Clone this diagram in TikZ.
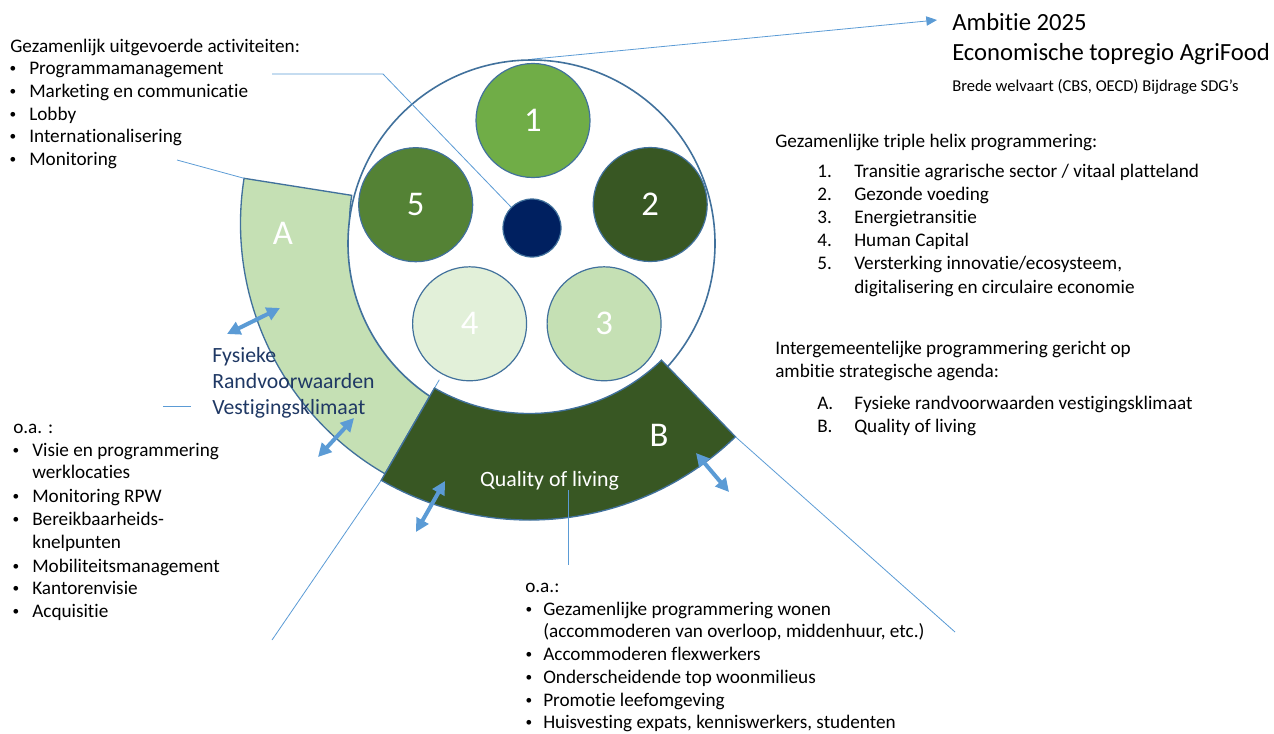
\documentclass[tikz,border=0pt]{standalone}
\usepackage{fontspec}
\setmainfont{Carlito}[Ligatures=NoCommon]
\usetikzlibrary{arrows.meta,calc}
\definecolor{cone}{RGB}{112,173,71}
\definecolor{ctwo}{RGB}{56,87,35}
\definecolor{cthree}{RGB}{197,224,180}
\definecolor{cfour}{RGB}{226,240,217}
\definecolor{cfive}{RGB}{84,130,53}
\definecolor{cdark}{RGB}{0,32,96}
\definecolor{outl}{RGB}{65,113,156}
\definecolor{lblue}{RGB}{91,155,213}
\definecolor{navy}{RGB}{31,56,100}
\newcommand\fmain{\fontsize{14.4}{17.25}\selectfont}
\begin{document}
\begin{tikzpicture}[x=0.75pt,y=0.75pt,
  txt/.style={inner sep=0pt, anchor=mid west, font=\fmain, text=black, yshift=-3pt},
  bul/.style={inner sep=0pt, anchor=center, font=\fontsize{10}{12}\selectfont, text=black, yshift=-1.5pt},
  ring/.style={circle, draw=outl, line width=0.9pt, inner sep=0pt, minimum size=85.5pt, text=white, font=\fontsize{26}{30}\selectfont},
  conn/.style={lblue, line width=0.6pt},
  dbl/.style={lblue, line width=3pt, {Triangle[length=10pt,width=10pt]}-{Triangle[length=10pt,width=10pt]}},
  band/.style={draw=outl, line width=1pt}]
\useasboundingbox (0,0) rectangle (1274,-733);
\coordinate (Cb) at (529.5,-223.5);
% band A
\draw[band, fill=cthree] ([shift={(171:180)}]Cb) arc[start angle=171,end angle=240,radius=180]
  -- ([shift={(240:289)}]Cb) arc[start angle=240,end angle=171,radius=289] -- cycle;
\coordinate (Atop) at ([shift={(171:289)}]Cb);
% big circle
\node[circle, draw=outl, line width=1.2pt, fill=white, inner sep=0pt, minimum size=275.25pt] (big) at (531.5,-243.5) {};
% B band corners
\coordinate (Bil) at ([shift={(-120:190)}]Cb);
\coordinate (Bol) at ([shift={(-120:296.5)}]Cb);
\coordinate (Bor) at ([shift={(-46:296.5)}]Cb);
\coordinate (eAB) at (272,-640);
\draw[conn] (eAB) -- (Bol) -- ($(Bol)!1.09!(Bil)$);
% band B
\draw[band, fill=ctwo] (Bil) arc[start angle=-120,end angle=-46,radius=190]
  -- (Bor) arc[start angle=-46,end angle=-120,radius=296.5] -- cycle;
% inner circles
\node[ring, fill=cone] (n1) at (533,-120.5) {1};
\node[ring, fill=ctwo] (n2) at (650.2,-204.5) {2};
\node[ring, fill=cthree] (n3) at (604.1,-323.8) {3};
\node[ring, fill=cfour] (n4) at (469.6,-323.8) {4};
\node[ring, fill=cfive] (n5) at (415.7,-204.7) {5};
\node[circle, draw=outl, line width=0.9pt, fill=cdark, inner sep=0pt, minimum size=43.5pt] (small) at (532,-228) {};
% labels in bands
\node[inner sep=0pt, text=white, font=\fontsize{26}{30}\selectfont] (labA) at (283,-233) {A};
\node[inner sep=0pt, text=white, font=\fontsize{26}{30}\selectfont] (labB) at (659,-435) {B};
\node[inner sep=0pt, anchor=mid, text=white, font=\fontsize{16.4}{20}\selectfont] (qol) at (549.6,-483) {Quality of living};
% connectors
\coordinate (tipAmb) at (937,-20);
\draw[conn, -{Triangle[length=8pt,width=7pt]}] (big.north) -- (tipAmb);
\coordinate (eGez) at (272,-74);
\coordinate (kGez) at (383,-74);
\draw[conn] (eGez) -- (kGez) -- (small.135);
\coordinate (eMon) at (177,-160);
\draw[conn] (eMon) -- (Atop);
\coordinate (eF1) at (163,-406);
\coordinate (eF2) at (191,-406);
\draw[conn] (eF1) -- (eF2);
\coordinate (eQ1) at (568,-490);
\coordinate (eQ2) at (568,-565);
\draw[conn] (eQ1) -- (eQ2);
\coordinate (eB) at (955,-632);
\draw[conn] (Bor) -- (eB);
% double arrows
\coordinate (da1) at (227,-334); \coordinate (da2) at (280,-308);
\coordinate (db1) at (318,-457); \coordinate (db2) at (354,-418);
\coordinate (dc1) at (416,-532); \coordinate (dc2) at (445,-481);
\coordinate (dd1) at (696,-453); \coordinate (dd2) at (729,-492);
\draw[dbl] (da1) -- (da2);
\draw[dbl] (db1) -- (db2);
\draw[dbl] (dc1) -- (dc2);
\draw[dbl] (dd1) -- (dd2);
% Fysieke text
\node[txt, text=navy, font=\fontsize{16.3}{19.5}\selectfont] (fy1) at (212,-355) {Fysieke};
\node[txt, text=navy, font=\fontsize{16.3}{19.5}\selectfont] (fy2) at (212,-381.5) {Randvoorwaarden};
\node[txt, text=navy, font=\fontsize{16.3}{19.5}\selectfont] (fy3) at (212,-407.5) {Vestigingsklimaat};
% top left list
\node[txt] (lt0) at (10,-45) {Gezamenlijk uitgevoerde activiteiten:};
\node[bul] (ltb1) at (13,-67) {•}; \node[txt] (lt1) at (29,-67) {Programmamanagement};
\node[bul] (ltb2) at (13,-90) {•}; \node[txt] (lt2) at (29,-90) {Marketing en communicatie};
\node[bul] (ltb3) at (13,-113) {•}; \node[txt] (lt3) at (29,-113) {Lobby};
\node[bul] (ltb4) at (13,-135.5) {•}; \node[txt] (lt4) at (29,-135.5) {Internationalisering};
\node[bul] (ltb5) at (13,-158.3) {•}; \node[txt] (lt5) at (29,-158.3) {Monitoring};
% top right
\node[txt, font=\fontsize{18.5}{22}\selectfont] (amb1) at (952,-23) {Ambitie 2025};
\node[txt, font=\fontsize{18.5}{22}\selectfont] (amb2) at (952,-53) {Economische topregio AgriFood};
\node[txt, font=\fontsize{12.4}{15}\selectfont] (amb3) at (952,-84) {Brede welvaart (CBS, OECD) Bijdrage SDG’s};
% right list
\node[txt] (rh) at (775,-140) {Gezamenlijke triple helix programmering:};
\node[txt] (rn1) at (817,-170) {1.}; \node[txt] (rt1) at (854,-170) {Transitie agrarische sector / vitaal platteland};
\node[txt] (rn2) at (817,-193) {2.}; \node[txt] (rt2) at (854,-193) {Gezonde voeding};
\node[txt] (rn3) at (817,-216) {3.}; \node[txt] (rt3) at (854,-216) {Energietransitie};
\node[txt] (rn4) at (817,-239) {4.}; \node[txt] (rt4) at (854,-239) {Human Capital};
\node[txt] (rn5) at (817,-262.5) {5.}; \node[txt] (rt5) at (854,-262.5) {Versterking innovatie/ecosysteem,};
\node[txt] (rt6) at (854,-286) {digitalisering en circulaire economie};
\node[txt] (ri1) at (775,-347) {Intergemeentelijke programmering gericht op};
\node[txt] (ri2) at (775,-370) {ambitie strategische agenda:};
\node[txt] (rnA) at (817,-402) {A.}; \node[txt] (rtA) at (854,-402) {Fysieke randvoorwaarden vestigingsklimaat};
\node[txt] (rnB) at (817,-425) {B.}; \node[txt] (rtB) at (854,-425) {Quality of living};
% left bottom list
\node[txt] (lb0) at (13,-426) {o.a. :};
\node[bul] (lbb1) at (16,-449.3) {•}; \node[txt] (lb1) at (32,-449.3) {Visie en programmering};
\node[txt] (lb1b) at (32,-471.7) {werklocaties};
\node[bul] (lbb2) at (16,-495) {•}; \node[txt] (lb2) at (32,-495) {Monitoring RPW};
\node[bul] (lbb3) at (16,-518.3) {•}; \node[txt] (lb3) at (32,-518.3) {Bereikbaarheids-};
\node[txt] (lb3b) at (32,-541.7) {knelpunten};
\node[bul] (lbb4) at (16,-565) {•}; \node[txt] (lb4) at (32,-565) {Mobiliteitsmanagement};
\node[bul] (lbb5) at (16,-587.3) {•}; \node[txt] (lb5) at (32,-587.3) {Kantorenvisie};
\node[bul] (lbb6) at (16,-610.7) {•}; \node[txt] (lb6) at (32,-610.7) {Acquisitie};
% bottom list
\node[txt] (bo0) at (525,-585) {o.a.:};
\node[bul] (bob1) at (529,-608) {•}; \node[txt] (bo1) at (543,-608) {Gezamenlijke programmering wonen};
\node[txt] (bo1b) at (543,-630.5) {(accommoderen van overloop, middenhuur, etc.)};
\node[bul] (bob2) at (529,-653.5) {•}; \node[txt] (bo2) at (543,-653.5) {Accommoderen flexwerkers};
\node[bul] (bob3) at (529,-676.5) {•}; \node[txt] (bo3) at (543,-676.5) {Onderscheidende top woonmilieus};
\node[bul] (bob4) at (529,-699.5) {•}; \node[txt] (bo4) at (543,-699.5) {Promotie leefomgeving};
\node[bul] (bob5) at (529,-721.5) {•}; \node[txt] (bo5) at (543,-721.5) {Huisvesting expats, kenniswerkers, studenten};
\end{tikzpicture}
\end{document}
